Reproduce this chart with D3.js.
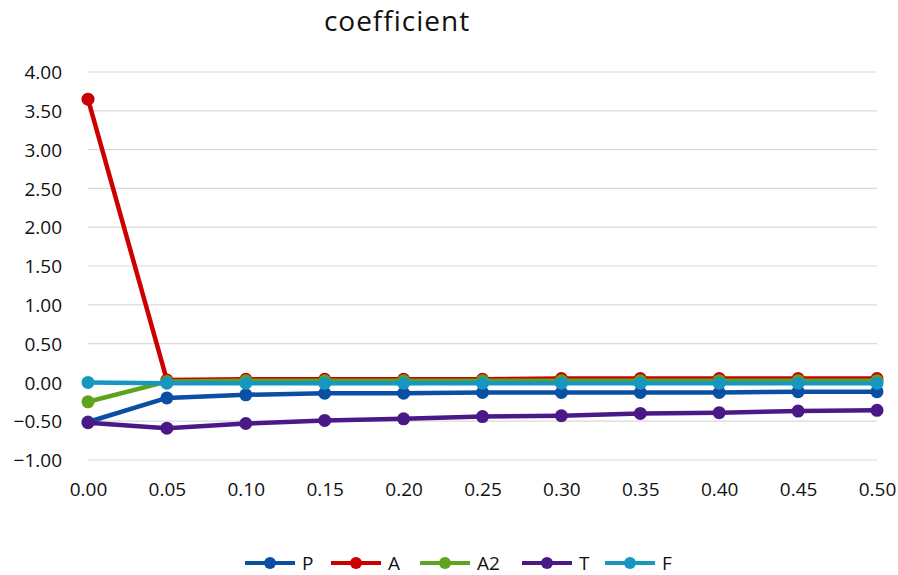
<!DOCTYPE html>
<html><head><meta charset="utf-8">
<script src="https://cdn.jsdelivr.net/npm/d3@7"></script>
<style>body{margin:0;background:#fff}</style>
</head><body>
<script>
const xValues = [0.00,0.05,0.10,0.15,0.20,0.25,0.30,0.35,0.40,0.45,0.50];
const seriesNames = ["P","A","A2","T","F"];
const seriesColors = ["#0a4fa3","#cc0000","#5ea31c","#4a1987","#1797c0"];
const P  = [-0.51,-0.20,-0.16,-0.14,-0.14,-0.13,-0.13,-0.13,-0.13,-0.12,-0.12];
const A  = [3.65,0.03,0.04,0.04,0.04,0.04,0.05,0.05,0.05,0.05,0.05];
const A2 = [-0.25,0.01,0.02,0.02,0.02,0.02,0.02,0.02,0.02,0.02,0.02];
const T  = [-0.52,-0.59,-0.53,-0.49,-0.47,-0.44,-0.43,-0.40,-0.39,-0.37,-0.36];
const F  = [0.00,-0.01,-0.01,-0.01,-0.01,-0.01,-0.01,-0.01,-0.01,-0.01,-0.01];
const seriesValues = [P,A,A2,T,F];
const yTicks = [4,3.5,3,2.5,2,1.5,1,0.5,0,-0.5,-1];

const W=898,H=575;
const svg=d3.select("body").append("svg").attr("width",W).attr("height",H);
const x=d3.scaleLinear().domain([0,0.5]).range([88,877]);
const y=d3.scaleLinear().domain([-1,4]).range([460,72]);
const font="'Open Sans', sans-serif";

svg.append("text").attr("x",397).attr("y",31).attr("text-anchor","middle")
  .attr("font-family",font).attr("font-size",28).attr("letter-spacing",1).attr("fill","#111").text("coefficient");

svg.append("g").selectAll("line").data(yTicks).join("line")
  .attr("x1",88).attr("x2",877).attr("y1",d=>y(d)).attr("y2",d=>y(d))
  .attr("stroke","#d9d9d9").attr("stroke-width",1.2);

const yAxis=svg.append("g").attr("transform","translate(62,0)")
  .call(d3.axisLeft(y).tickValues(yTicks).tickFormat(d3.format(".2f")).tickSize(0));
yAxis.select(".domain").remove();
yAxis.selectAll("text").attr("font-family",font).attr("font-size",19).attr("fill","#111").attr("x",0).attr("dy","0.35em");

const xAxis=svg.append("g").attr("transform","translate(0,477)")
  .call(d3.axisBottom(x).tickValues(xValues).tickFormat(d3.format(".2f")).tickSize(0));
xAxis.select(".domain").remove();
xAxis.selectAll("text").attr("font-family",font).attr("font-size",19).attr("fill","#111").attr("y",0).attr("dy","1em");

const line=d3.line().x((d,i)=>x(xValues[i])).y(d=>y(d));
seriesValues.forEach((vals,si)=>{
  const g=svg.append("g");
  g.append("path").datum(vals).attr("d",line).attr("fill","none")
    .attr("stroke",seriesColors[si]).attr("stroke-width",4.5).attr("stroke-linejoin","round");
  g.selectAll("circle").data(vals).join("circle")
    .attr("cx",(d,i)=>x(xValues[i])).attr("cy",d=>y(d)).attr("r",6.5)
    .attr("fill",seriesColors[si]);
});

const legX=[245,331,420,522,605];
const lg=svg.append("g");
seriesNames.forEach((n,i)=>{
  const g=lg.append("g").attr("transform",`translate(${legX[i]},563)`);
  g.append("line").attr("x1",0).attr("x2",50).attr("stroke",seriesColors[i]).attr("stroke-width",4);
  g.append("circle").attr("cx",25).attr("r",6).attr("fill",seriesColors[i]);
  g.append("text").attr("x",57).attr("y",7).attr("font-family",font).attr("font-size",19)
    .attr("fill","#111").text(n);
});
</script>
</body></html>
